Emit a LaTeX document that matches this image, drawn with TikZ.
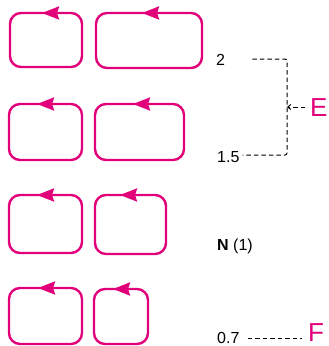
\documentclass[tikz,border=0pt]{standalone}
\usepackage{fontspec}
\setmainfont{Liberation Sans}
\usepackage{tikz}
\usetikzlibrary{positioning, arrows.meta, calc}
\definecolor{loopmag}{RGB}{226,0,122}

\begin{document}
\begin{tikzpicture}[
    x=1pt, y=-1pt,
    loopline/.style={draw=loopmag, line width=2.4pt, rounded corners=11pt},
    looparrow/.style={loopmag, line width=2.4pt, -{Stealth[length=17pt,width=13pt,inset=2pt]}},
    dashline/.style={black, line width=1pt, dash pattern=on 4.5pt off 3pt},
    numlabel/.style={font=\fontsize{16}{18}\selectfont, inner sep=0pt},
    letterlabel/.style={font=\fontsize{26}{28}\selectfont, text=loopmag, inner sep=0pt}
]
\useasboundingbox (0,0) rectangle (329,346);

% Row 1
\draw[loopline] (10,13) rectangle (82,67);
\draw[looparrow] (64,13) -- (42,13);
\draw[loopline] (96,13) rectangle (202,68);
\draw[looparrow] (164,13) -- (142,13);

% Row 2
\draw[loopline] (9,104) rectangle (82,160);
\draw[looparrow] (59,104) -- (37,104);
\draw[loopline] (95,104) rectangle (184,160);
\draw[looparrow] (155,104) -- (133,104);

% Row 3
\draw[loopline] (9,195) rectangle (82,253);
\draw[looparrow] (59,195) -- (37,195);
\draw[loopline] (95,195) rectangle (166,254);
\draw[looparrow] (142,195) -- (120,195);

% Row 4
\draw[loopline] (9,288) rectangle (82,344);
\draw[looparrow] (60,288) -- (38,288);
\draw[loopline] (94,289) rectangle (148,344);
\draw[looparrow] (135,289) -- (113,289);

% Values
\node[numlabel, anchor=west] (val2) at (216,60) {2};
\node[numlabel, anchor=west] (val15) at (217,157) {1.5};
\node[numlabel, anchor=west] (valN) at (217,246) {\textbf{N} (1)};
\node[numlabel, anchor=west] (val07) at (217,338) {0.7};

% Letters
\node[letterlabel, anchor=west] (letE) at (310,108) {E};
\node[letterlabel, anchor=west] (letF) at (308,333) {F};

% Bracket
\coordinate (brtop) at (287,59);
\coordinate (brbot) at (287,155);
\coordinate (brmid) at (287,107);
\draw[dashline, rounded corners=2pt] ([xshift=27pt]val2.east |- brtop) -- (brtop) -- (brbot)
    -- ([xshift=3pt]val15.east |- brbot);
\draw[dashline, -{Straight Barb[length=3pt,width=5pt]}] ([xshift=-5pt]letE.west |- brmid) -- (brmid);
\draw[dashline] ([xshift=8pt]val07.east) -- ([xshift=-6pt]letF.west |- val07.east);

\end{tikzpicture}
\end{document}
